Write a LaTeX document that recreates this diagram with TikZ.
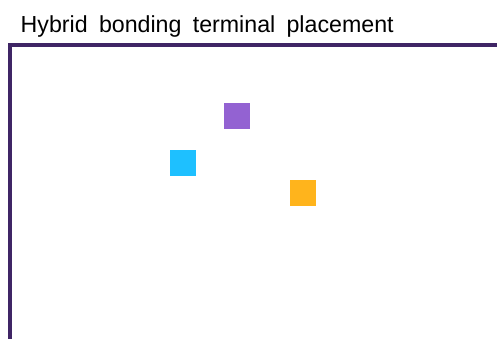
\documentclass[tikz,border=0pt]{standalone}
\usepackage{fontspec}
\setmainfont{Liberation Sans}[WordSpace=1.75]

\definecolor{framepurple}{HTML}{3F2565}
\definecolor{padpurple}{HTML}{9362D2}
\definecolor{padblue}{HTML}{1EC0FF}
\definecolor{padorange}{HTML}{FFB41C}

\tikzset{   padsq/.style={draw=none,rectangle,minimum size=26pt,inner sep=0pt},
            frameline/.style={draw=framepurple,line width=3.5pt},
}

\begin{document}
\begin{tikzpicture}[x=1pt,y=-1pt]
    \useasboundingbox (0,0) rectangle (497,338);

    \node[anchor=base west,inner sep=0pt,font=\fontsize{23.2}{27}\selectfont] (title) at (20.5,32) {Hybrid bonding terminal placement}; % title

    \coordinate (corner) at (10,45);   % frame corner
    \coordinate (right) at (499,45);
    \coordinate (bottom) at (10,340);
    \draw[frameline] (right) -- (corner) -- (bottom);

    \node[padsq,fill=padpurple] (purplepad) at (237,116) {}; % terminals
    \node[padsq,fill=padblue] (bluepad) at (183,163) {};
    \node[padsq,fill=padorange] (orangepad) at (303,193) {};
\end{tikzpicture}
\end{document}
